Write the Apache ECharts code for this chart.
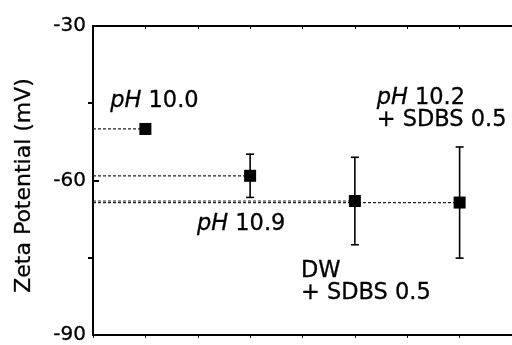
<!DOCTYPE html>
<html>
<head>
<meta charset="utf-8">
<script src="https://cdn.jsdelivr.net/npm/echarts@6/dist/echarts.min.js"></script>
<style>html,body{margin:0;padding:0;background:#fff;}#c{width:512px;height:345px;}</style>
</head>
<body>
<div id="c"></div>
<script>
// ---- data ----
var xPositions = [1, 2, 3, 4];
var zetaValues = [-50.0, -59.1, -64.0, -64.3];
var zetaErrors = [0, 4.2, 8.5, 10.8];
var sampleLabels = [
  '{i|pH} 10.0',
  '{i|pH} 10.9',
  'DW\n+ SDBS 0.5',
  '{i|pH} 10.2\n+ SDBS 0.5'
];
var yTicks = [-90, -60, -30];
var yMinorTicks = [-75, -45];
var axisTitle = 'Zeta Potential (mV)';

// ---- presentation ----
var FONT = 'DejaVu Sans';
var THICK = {textBorderColor: '#000', textBorderWidth: 0.3};
var labelStyles = [
  {align: 'center', offset: [9, -28]},
  {align: 'center', offset: [-9, 48]},
  {align: 'left', offset: [-54, 81]},
  {align: 'left', offset: [-83, -93]}
];
var rich = {
  i: Object.assign({fontStyle: 'italic', fontSize: 22.5, fontFamily: FONT, color: '#000', lineHeight: 22}, THICK)
};

var xMin = 0.5;
var scatterData = xPositions.map(function (x, k) {
  return {
    value: [x, zetaValues[k]],
    label: Object.assign({
      show: true,
      position: 'inside',
      formatter: sampleLabels[k],
      align: labelStyles[k].align,
      verticalAlign: 'middle',
      offset: labelStyles[k].offset,
      fontSize: 22.5,
      fontFamily: FONT,
      color: '#000',
      lineHeight: 22,
      rich: rich
    }, THICK)
  };
});

var guideSeries = xPositions.map(function (x, k) {
  return {
    type: 'line',
    data: [[xMin, zetaValues[k]], [x, zetaValues[k]]],
    symbol: 'none',
    silent: true,
    z: 1,
    lineStyle: {color: '#222', width: 1.2, type: [3, 2]}
  };
});

var errData = xPositions.map(function (x, k) {
  return [x, zetaValues[k] - zetaErrors[k], zetaValues[k] + zetaErrors[k]];
});

var chart = echarts.init(document.getElementById('c'), null, {renderer: 'canvas'});
chart.setOption({
  animation: false,
  backgroundColor: '#fff',
  grid: {left: 93, top: 26, right: -4, bottom: 8},
  xAxis: [
    {
      type: 'value', min: 0.5, max: 4.5, interval: 0.5, position: 'bottom',
      axisLine: {show: true, lineStyle: {color: '#000', width: 2}},
      axisTick: {show: true, length: 3, lineStyle: {color: '#000', width: 1}},
      axisLabel: {show: false}, splitLine: {show: false}
    },
    {
      type: 'value', min: 0.5, max: 4.5, interval: 0.5, position: 'top',
      axisLine: {show: true, lineStyle: {color: '#000', width: 2}},
      axisTick: {show: true, inside: true, length: 3, lineStyle: {color: '#000', width: 1}},
      axisLabel: {show: false}, splitLine: {show: false}
    }
  ],
  yAxis: [
    {
      type: 'value', min: -90, max: -30, interval: 30, position: 'left',
      name: axisTitle, nameLocation: 'middle', nameGap: 58,
      nameTextStyle: Object.assign({fontSize: 22, fontFamily: FONT, color: '#000', padding: [0, 0, 0, -10]}, THICK),
      axisLine: {show: true, lineStyle: {color: '#000', width: 2}},
      axisTick: {show: true, inside: true, length: 6, lineStyle: {color: '#000', width: 2}},
      axisLabel: Object.assign({
        show: true, margin: 7, fontSize: 20, fontFamily: FONT, color: '#000',
        formatter: function (v) { return yTicks.indexOf(v) >= 0 ? String(v) : ''; }
      }, THICK),
      splitLine: {show: false}
    },
    {
      type: 'value', min: -90, max: -30, interval: 15, position: 'left',
      axisLine: {show: false},
      axisTick: {show: true, length: 5, customValues: yMinorTicks, lineStyle: {color: '#000', width: 2}},
      axisLabel: {show: false}, splitLine: {show: false}
    }
  ],
  series: guideSeries.concat([
    {
      type: 'custom',
      z: 2,
      silent: true,
      data: errData,
      renderItem: function (params, api) {
        var x = api.value(0);
        var lo = api.coord([x, api.value(1)]);
        var hi = api.coord([x, api.value(2)]);
        var cap = 4;
        return {
          type: 'group',
          children: [
            {type: 'line', shape: {x1: lo[0], y1: lo[1], x2: hi[0], y2: hi[1]}, style: {stroke: '#000', lineWidth: 1.6}},
            {type: 'line', shape: {x1: lo[0] - cap, y1: lo[1], x2: lo[0] + cap, y2: lo[1]}, style: {stroke: '#000', lineWidth: 1.6}},
            {type: 'line', shape: {x1: hi[0] - cap, y1: hi[1], x2: hi[0] + cap, y2: hi[1]}, style: {stroke: '#000', lineWidth: 1.6}}
          ]
        };
      }
    },
    {
      type: 'scatter',
      z: 3,
      symbol: 'rect',
      symbolSize: 12,
      itemStyle: {color: '#000', opacity: 1},
      data: scatterData
    }
  ])
});
</script>
</body>
</html>
